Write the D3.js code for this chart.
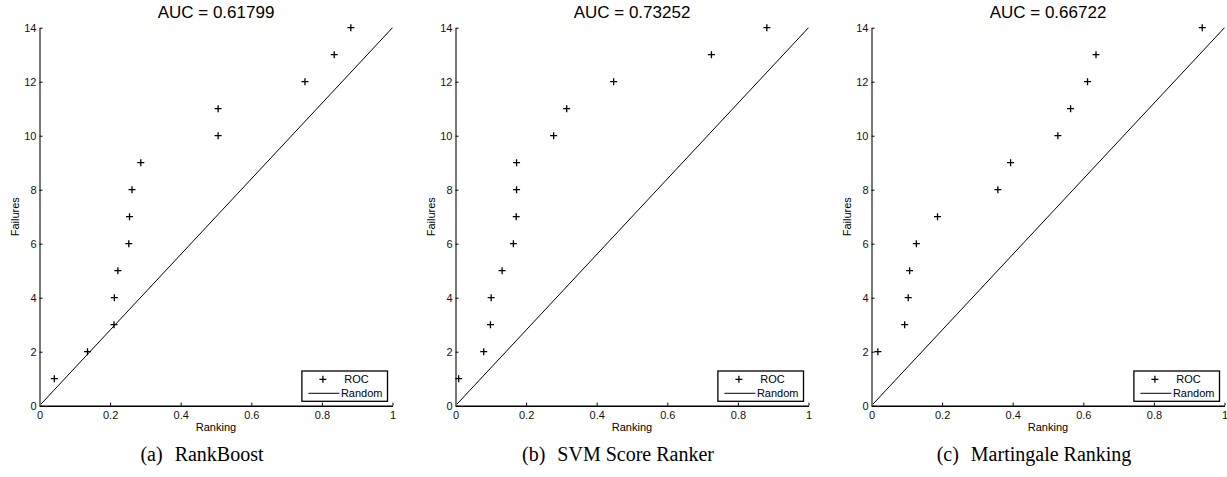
<!DOCTYPE html>
<html>
<head>
<meta charset="utf-8">
<script src="https://cdn.jsdelivr.net/npm/d3@7"></script>
<style>
  html, body { margin: 0; padding: 0; background: #fff; }
  svg { display: block; }
</style>
</head>
<body>
<svg id="fig" width="1227" height="477"></svg>
<script>
// ---- data ----
const aucTitles = ["AUC = 0.61799", "AUC = 0.73252", "AUC = 0.66722"];
const captionTags = ["(a)", "(b)", "(c)"];
const captionNames = ["RankBoost", "SVM Score Ranker", "Martingale Ranking"];

const rankBoostRanking = [0.042, 0.136, 0.211, 0.212, 0.222, 0.253, 0.255, 0.262, 0.287, 0.506, 0.506, 0.752, 0.835, 0.882];
const rankBoostFailures = [1, 2, 3, 4, 5, 6, 7, 8, 9, 10, 11, 12, 13, 14];

const svmRanking = [0.009, 0.080, 0.099, 0.101, 0.132, 0.164, 0.172, 0.173, 0.173, 0.278, 0.315, 0.448, 0.725, 0.882];
const svmFailures = [1, 2, 3, 4, 5, 6, 7, 8, 9, 10, 11, 12, 13, 14];

const martingaleRanking = [0.018, 0.094, 0.104, 0.108, 0.127, 0.187, 0.358, 0.394, 0.528, 0.564, 0.612, 0.636, 0.937];
const martingaleFailures = [2, 3, 4, 5, 6, 7, 8, 9, 10, 11, 12, 13, 14];

const randomRanking = [0, 1];
const randomFailures = [0, 14];

const xTicks = [0, 0.2, 0.4, 0.6, 0.8, 1];
const yTicks = [0, 2, 4, 6, 8, 10, 12, 14];
const legendLabels = ["ROC", "Random"];
const xLabel = "Ranking";
const yLabel = "Failures";

const rocSeries = [
  { x: rankBoostRanking, y: rankBoostFailures },
  { x: svmRanking, y: svmFailures },
  { x: martingaleRanking, y: martingaleFailures }
];

// ---- layout ----
const panelLefts = [39.5, 455.5, 871.5];
const plotW = 353;
const plotTop = 27.7;
const plotBottom = 405.7;
const sans = "'Liberation Sans', Arial, Helvetica, sans-serif";
const serif = "'Liberation Serif', 'Times New Roman', serif";

const svg = d3.select("#fig");
const plusPath = "M-3.5,0H3.5M0,-3.5V3.5";

rocSeries.forEach((s, i) => {
  const left = panelLefts[i];
  const x = d3.scaleLinear().domain([0, 1]).range([left, left + plotW]);
  const y = d3.scaleLinear().domain([0, 14]).range([plotBottom, plotTop]);
  const cx = left + plotW / 2;
  const g = svg.append("g");

  // random-guess diagonal
  const line = d3.line().x(d => x(d[0])).y(d => y(d[1]));
  g.append("path")
    .datum(d3.zip(randomRanking, randomFailures))
    .attr("d", line)
    .attr("fill", "none")
    .attr("stroke", "#000")
    .attr("stroke-width", 1);

  // x axis
  const xAxis = g.append("g")
    .attr("transform", `translate(0,${plotBottom})`)
    .call(d3.axisBottom(x).tickValues(xTicks).tickFormat(d3.format("~g"))
      .tickSizeInner(-3).tickSizeOuter(0).tickPadding(6));
  xAxis.select(".domain").attr("stroke", "#000").attr("stroke-width", 1.4);
  xAxis.selectAll(".tick line").attr("stroke", "#000");
  xAxis.selectAll("text").attr("font-family", sans).attr("font-size", 11).attr("fill", "#111");

  // y axis
  const yAxis = g.append("g")
    .attr("transform", `translate(${left},0)`)
    .call(d3.axisLeft(y).tickValues(yTicks).tickFormat(d3.format("d"))
      .tickSizeInner(-3).tickSizeOuter(0).tickPadding(3));
  yAxis.select(".domain").attr("stroke", "#777").attr("stroke-width", 2);
  yAxis.selectAll(".tick line").attr("stroke", "#000");
  yAxis.selectAll("text").attr("font-family", sans).attr("font-size", 11).attr("fill", "#111");

  // ROC points
  g.selectAll("path.roc")
    .data(d3.zip(s.x, s.y))
    .join("path")
    .attr("class", "roc")
    .attr("d", plusPath)
    .attr("transform", d => `translate(${x(d[0])},${y(d[1])})`)
    .attr("stroke", "#000")
    .attr("stroke-width", 1.3)
    .attr("fill", "none");

  // title
  g.append("text")
    .attr("x", cx).attr("y", 18.3)
    .attr("text-anchor", "middle")
    .attr("font-family", sans).attr("font-size", 17)
    .text(aucTitles[i]);

  // axis labels
  g.append("text")
    .attr("x", cx).attr("y", 431)
    .attr("text-anchor", "middle")
    .attr("font-family", sans).attr("font-size", 11)
    .text(xLabel);
  g.append("text")
    .attr("transform", `translate(${left - 21},${(plotTop + plotBottom) / 2}) rotate(-90)`)
    .attr("text-anchor", "middle")
    .attr("font-family", sans).attr("font-size", 11)
    .text(yLabel);

  // legend
  const lg = g.append("g").attr("transform", `translate(${left + 262.4},371)`);
  lg.append("rect")
    .attr("width", 85.6).attr("height", 30.3)
    .attr("fill", "#fff").attr("stroke", "#000").attr("stroke-width", 1.3);
  lg.append("path")
    .attr("d", plusPath)
    .attr("transform", "translate(21,8.3)")
    .attr("stroke", "#000").attr("stroke-width", 1.3);
  lg.append("line")
    .attr("x1", 6.5).attr("x2", 37.5).attr("y1", 22.3).attr("y2", 22.3)
    .attr("stroke", "#000").attr("stroke-width", 1);
  lg.append("text")
    .attr("x", 42.3).attr("y", 12.2)
    .attr("font-family", sans).attr("font-size", 11)
    .text(legendLabels[0]);
  lg.append("text")
    .attr("x", 39).attr("y", 26.2)
    .attr("font-family", sans).attr("font-size", 11)
    .text(legendLabels[1]);

  // subfigure caption
  const cap = g.append("text")
    .attr("x", cx - 14).attr("y", 461)
    .attr("text-anchor", "middle")
    .attr("font-family", serif).attr("font-size", 20);
  cap.append("tspan").text(captionTags[i] + " ");
  cap.append("tspan").attr("dx", 7).text(captionNames[i]);
});
</script>
</body>
</html>
